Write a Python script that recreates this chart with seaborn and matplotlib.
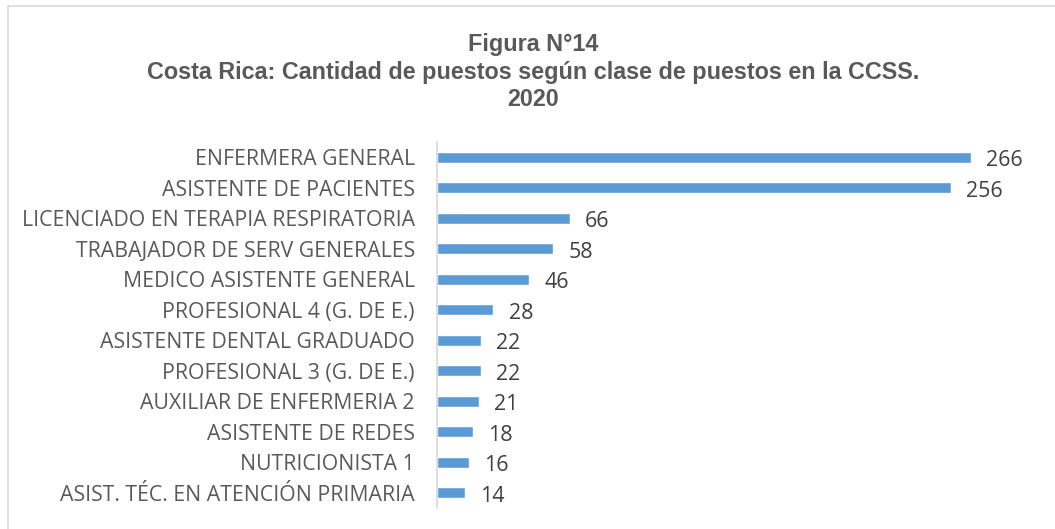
import matplotlib
matplotlib.use("Agg")
import matplotlib.pyplot as plt
import seaborn as sns
import pandas as pd
from matplotlib.patches import Rectangle

categories = [
    "ENFERMERA GENERAL",
    "ASISTENTE DE PACIENTES",
    "LICENCIADO EN TERAPIA RESPIRATORIA",
    "TRABAJADOR DE SERV GENERALES",
    "MEDICO ASISTENTE GENERAL",
    "PROFESIONAL 4 (G. DE E.)",
    "ASISTENTE DENTAL GRADUADO",
    "PROFESIONAL 3 (G. DE E.)",
    "AUXILIAR DE ENFERMERIA 2",
    "ASISTENTE DE REDES",
    "NUTRICIONISTA 1",
    "ASIST. TÉC. EN ATENCIÓN PRIMARIA",
]
values = [266, 256, 66, 58, 46, 28, 22, 22, 21, 18, 16, 14]

title_lines = [
    "Figura N°14",
    "Costa Rica: Cantidad de puestos según clase de puestos en la CCSS.",
    "2020",
]

sns.set_style("white")
plt.rcParams["font.family"] = ["Open Sans", "DejaVu Sans"]

W, H = 1055, 529
fig = plt.figure(figsize=(W / 100, H / 100), dpi=100)
fig.patch.set_facecolor("white")

# chart border (extends past right/bottom of image)
fig.patches.append(Rectangle((8 / W, -0.1), 1.2, (1 - 6 / H) + 0.1,
                             transform=fig.transFigure, fill=False,
                             edgecolor="#d9d9d9", linewidth=1.2))

ax_left, ax_right = 437, 1045
ax_top, ax_bottom = 142, 508
ax = fig.add_axes([ax_left / W, 1 - ax_bottom / H, (ax_right - ax_left) / W,
                   (ax_bottom - ax_top) / H])

df = pd.DataFrame({"cat": categories, "val": values})
sns.barplot(data=df, x="val", y="cat", orient="h", color="#5B9BD5",
            saturation=1, width=0.36, ax=ax)

px_per_unit = 2.008
ax.set_xlim(0, (ax_right - ax_left) / px_per_unit)
ax.set_ylim(len(categories) - 0.5, -0.5)

for i, v in enumerate(values):
    ax.annotate(str(v), xy=(v, i), xytext=(11, -2.5), textcoords="offset points",
                ha="left", va="center", fontsize=15.4, color="#404040")

ax.set_xlabel("")
ax.set_ylabel("")
ax.set_xticks([])
ax.tick_params(axis="y", length=0, pad=16, labelsize=15.3, labelcolor="#595959")
for s in ["top", "right", "bottom"]:
    ax.spines[s].set_visible(False)
ax.spines["left"].set_color("#d9d9d9")
ax.spines["left"].set_linewidth(1.2)
ax.set_facecolor("none")

ys = [44, 73, 100]
for t, y in zip(title_lines, ys):
    fig.text(533 / W, 1 - y / H, t, ha="center", va="center",
             fontsize=16.8, fontweight="bold", color="#595959",
             family=["Liberation Sans", "DejaVu Sans"])

fig.savefig("out.png", dpi=100, facecolor="white")
